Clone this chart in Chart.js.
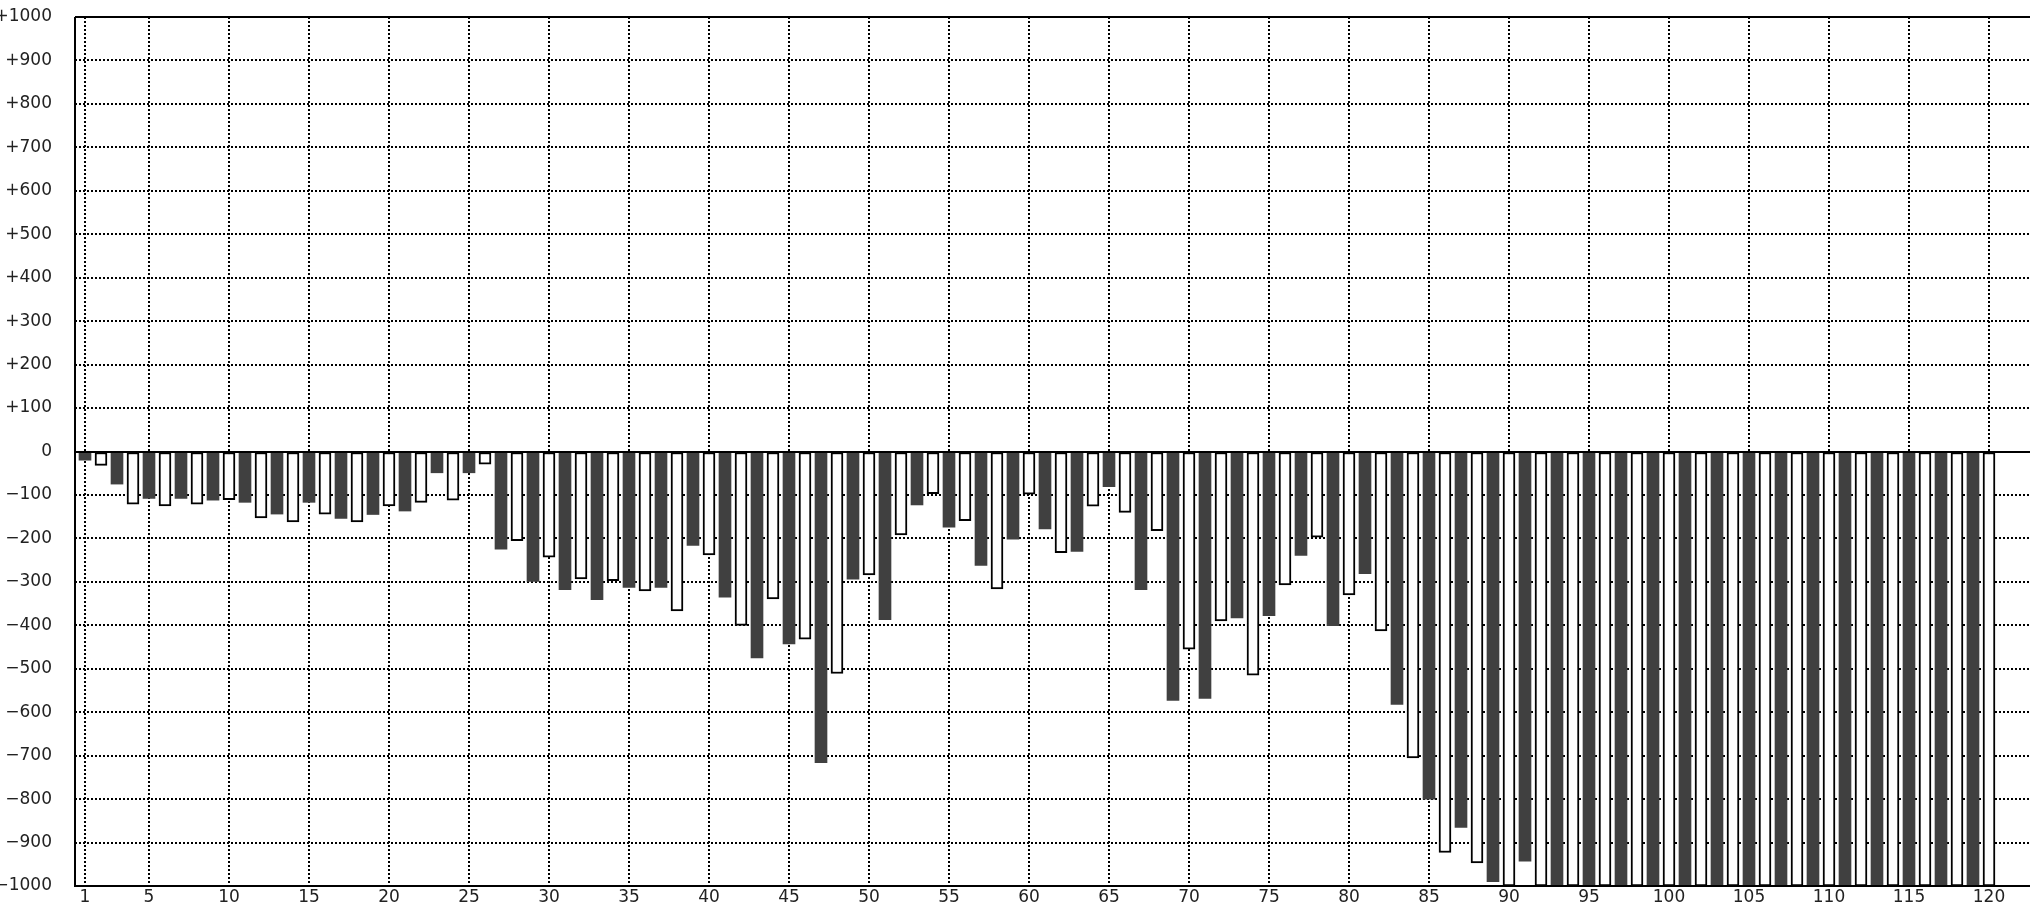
<!DOCTYPE html>
<html>
<head>
<meta charset="utf-8">
<script src="https://cdn.jsdelivr.net/npm/chart.js@4.4.1/dist/chart.umd.min.js"></script>
<style>
  html, body { margin: 0; padding: 0; background: #fff; }
  #wrap { width: 2030px; height: 908px; }
</style>
</head>
<body>
<div id="wrap"><canvas id="chart" width="2030" height="908"></canvas></div>
<script>
// --- Datos ---
// Número de ronda (1..120)
const categories = Array.from({ length: 120 }, (_, i) => i + 1);

// Valor de cada barra
const values = [
  -20, -32, -75, -121, -108, -125, -108, -121, -112, -111,
  -117, -153, -144, -162, -117, -144, -154, -162, -145, -125,
  -137, -117, -49, -112, -49, -29, -225, -205, -299, -243,
  -318, -293, -341, -297, -313, -321, -313, -367, -216, -238,
  -335, -400, -475, -339, -443, -432, -716, -511, -294, -284,
  -387, -192, -123, -97, -174, -159, -262, -316, -202, -98,
  -178, -233, -230, -126, -81, -140, -318, -182, -573, -455,
  -568, -390, -383, -515, -378, -307, -239, -197, -401, -330,
  -281, -413, -582, -705, -800, -923, -865, -947, -990, -1000,
  -943, -1000, -1000, -1000, -1000, -1000, -1000, -1000, -1000, -1000,
  -1000, -1000, -1000, -1000, -1000, -1000, -1000, -1000, -1000, -1000,
  -1000, -1000, -1000, -1000, -1000, -1000, -1000, -1000, -1000, -1000
];

// Etiquetas del eje X
const xTicks = [1, 5, 10, 15, 20, 25, 30, 35, 40, 45, 50, 55, 60,
  65, 70, 75, 80, 85, 90, 95, 100, 105, 110, 115, 120];

// Eje Y
const yMin = -1000;
const yMax = 1000;
const yStep = 100;

// --- Estilos ---
const DARK = '#404040';
const LIGHT = '#ffffff';
const LINE = '#000000';

Chart.defaults.font.family = "'DejaVu Sans', sans-serif";
Chart.defaults.font.size = 17;
Chart.defaults.color = '#222';

// Marco y línea del cero (sólidas, encima de las barras)
const framePlugin = {
  id: 'frame',
  afterDatasetsDraw(chart) {
    const { ctx, chartArea: a, scales } = chart;
    const y0 = Math.round(scales.y.getPixelForValue(0));
    ctx.save();
    ctx.strokeStyle = LINE;
    ctx.lineWidth = 2;
    ctx.setLineDash([]);
    ctx.beginPath();
    // cero
    ctx.moveTo(a.left, y0);
    ctx.lineTo(a.right, y0);
    // arriba
    ctx.moveTo(a.left, a.top);
    ctx.lineTo(a.right, a.top);
    // izquierda y abajo
    ctx.moveTo(a.left, a.top);
    ctx.lineTo(a.left, a.bottom);
    ctx.lineTo(a.right, a.bottom);
    ctx.stroke();
    ctx.restore();
  }
};

const isDark = i => i % 2 === 0; // barras impares (1, 3, 5...) oscuras

new Chart(document.getElementById('chart'), {
  type: 'bar',
  data: {
    datasets: [{
      data: values.map((v, i) => ({ x: categories[i], y: v })),
      backgroundColor: values.map((_, i) => isDark(i) ? DARK : LIGHT),
      borderColor: LINE,
      borderWidth: values.map((_, i) => isDark(i) ? 0 : 2),
      borderSkipped: false,
      barThickness: 12
    }]
  },
  options: {
    responsive: false,
    animation: false,
    layout: { padding: { top: 17, right: 0, left: 0, bottom: 0 } },
    plugins: {
      legend: { display: false },
      tooltip: { enabled: false }
    },
    scales: {
      x: {
        type: 'linear',
        offset: false,
        min: 0.375,
        max: 122.5625,
        afterBuildTicks: scale => {
          scale.ticks = xTicks.map(v => ({ value: v }));
        },
        afterFit: scale => {
          scale.height = 22;
          scale.paddingLeft = 0;
          scale.paddingRight = 0;
        },
        ticks: {
          autoSkip: false,
          maxRotation: 0,
          padding: 1,
          callback: v => String(v)
        },
        grid: {
          offset: false,
          color: LINE,
          lineWidth: 2,
          drawTicks: false
        },
        border: { display: false, dash: [2, 2] }
      },
      y: {
        min: yMin,
        max: yMax,
        afterFit: scale => {
          scale.width = 75;
          scale.paddingTop = 0;
          scale.paddingBottom = 0;
        },
        ticks: {
          stepSize: yStep,
          padding: 23,
          callback: v => v > 0 ? '+' + v : (v < 0 ? '\u2212' + (-v) : '0')
        },
        grid: {
          color: ctx => ctx.tick && ctx.tick.value === 0 ? 'rgba(0,0,0,0)' : LINE,
          lineWidth: 2,
          drawTicks: false
        },
        border: { display: false, dash: [2, 2] }
      }
    }
  },
  plugins: [framePlugin]
});
</script>
</body>
</html>
